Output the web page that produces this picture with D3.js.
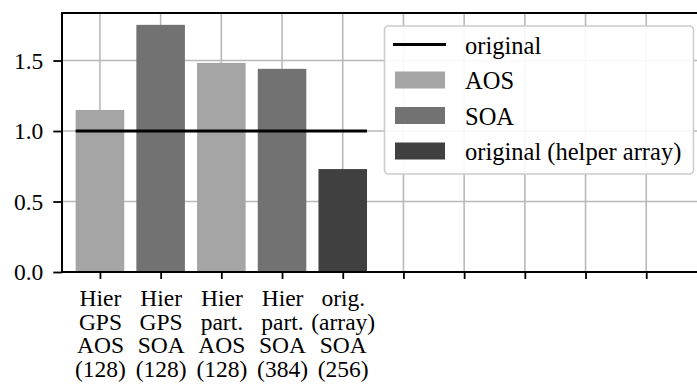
<!DOCTYPE html>
<html>
<head>
<meta charset="utf-8">
<script src="https://cdn.jsdelivr.net/npm/d3@7"></script>
</head>
<body style="margin:0;padding:0;background:#fff">
<svg id="chart" width="697" height="390" style="display:block"></svg>
<script>
// Relative runtime of each layout variant (baseline "original" = 1.0)
const categories = [
  ["Hier", "GPS", "AOS", "(128)"],
  ["Hier", "GPS", "SOA", "(128)"],
  ["Hier", "part.", "AOS", "(128)"],
  ["Hier", "part.", "SOA", "(384)"],
  ["orig.", "(array)", "SOA", "(256)"]
];
const series = ["AOS", "SOA", "AOS", "SOA", "original (helper array)"];
const values = [1.149, 1.753, 1.483, 1.441, 0.730];
const baseline = 1.0;
const xTickCount = 10;
const yTicks = [0, 0.5, 1.0, 1.5];
const legendLabels = ["original", "AOS", "SOA", "original (helper array)"];

const colors = {
  "AOS": "#a5a5a5",
  "SOA": "#727272",
  "original (helper array)": "#404040"
};

const FONT = "'Liberation Serif', 'Times New Roman', Tinos, serif";
const svg = d3.select("#chart");
const mLeft = 62, mTop = 13, mBottom = 272, mRight = 720;

function serifText(sel, size) {
  return sel.style("font-family", FONT).style("font-size", size + "px").attr("fill", "#000");
}

const x = d3.scaleLinear().domain([-0.625, 9.65]).range([mLeft, mLeft + 60.7 * 10.275]);
const y = d3.scaleLinear().domain([0, 1.837]).range([mBottom, mTop]);

svg.append("defs").append("clipPath").attr("id", "plot")
  .append("rect").attr("x", mLeft).attr("y", mTop).attr("width", mRight - mLeft).attr("height", mBottom - mTop);

// grid
const grid = svg.append("g").attr("clip-path", "url(#plot)");
grid.selectAll("line.vx").data(d3.range(xTickCount)).join("line")
  .attr("class", "vx")
  .attr("x1", d => x(d)).attr("x2", d => x(d))
  .attr("y1", mTop).attr("y2", mBottom)
  .attr("stroke", "#b9b9b9").attr("stroke-width", 1.6);
grid.selectAll("line.hy").data(yTicks).join("line")
  .attr("class", "hy")
  .attr("x1", mLeft).attr("x2", mRight)
  .attr("y1", d => y(d)).attr("y2", d => y(d))
  .attr("stroke", "#b9b9b9").attr("stroke-width", 1.6);

// bars
const barW = 0.8;
svg.append("g").selectAll("rect").data(values).join("rect")
  .attr("x", (d, i) => x(i - barW / 2))
  .attr("width", (d, i) => x(i + barW / 2) - x(i - barW / 2))
  .attr("y", d => y(d))
  .attr("height", d => y(0) - y(d))
  .attr("fill", (d, i) => colors[series[i]]);

// baseline line
svg.append("line")
  .attr("x1", x(-0.4)).attr("x2", x(categories.length - 1 + 0.4))
  .attr("y1", y(baseline)).attr("y2", y(baseline))
  .attr("stroke", "#000").attr("stroke-width", 3);

// axes
const xAxis = d3.axisBottom(x).tickValues(d3.range(xTickCount)).tickSize(7).tickFormat("");
const gx = svg.append("g").attr("transform", `translate(0,${mBottom})`).call(xAxis);
gx.attr("font-family", null).attr("font-size", null);
gx.select(".domain").remove();
gx.selectAll(".tick line").attr("stroke", "#000").attr("stroke-width", 1.8);
gx.selectAll(".tick text").remove();
gx.selectAll(".tick").each(function(d) {
  const lines = categories[d];
  if (!lines) return;
  const t = serifText(d3.select(this).append("text").attr("text-anchor", "middle"), 23.5);
  lines.forEach((s, k) => {
    t.append("tspan").attr("x", 0).attr("y", 34 + k * 23.5).text(s);
  });
});

const yAxis = d3.axisLeft(y).tickValues(yTicks).tickSize(8.7).tickPadding(10).tickFormat(d3.format(".1f"));
const gy = svg.append("g").attr("transform", `translate(${mLeft},0)`).call(yAxis);
gy.attr("font-family", null).attr("font-size", null);
gy.select(".domain").remove();
gy.selectAll(".tick line").attr("stroke", "#000").attr("stroke-width", 1.8);
serifText(gy.selectAll(".tick text"), 23.5);

// spines
svg.append("line").attr("x1", mLeft).attr("x2", mLeft).attr("y1", mTop - 1).attr("y2", mBottom + 1)
  .attr("stroke", "#000").attr("stroke-width", 2);
svg.append("line").attr("x1", mLeft - 1).attr("x2", mRight).attr("y1", mBottom).attr("y2", mBottom)
  .attr("stroke", "#000").attr("stroke-width", 2);
svg.append("line").attr("x1", mLeft - 1).attr("x2", mRight).attr("y1", mTop).attr("y2", mTop)
  .attr("stroke", "#000").attr("stroke-width", 2);

// legend
const lg = svg.append("g");
lg.append("rect")
  .attr("x", 384.5).attr("y", 26).attr("width", 309).attr("height", 148)
  .attr("rx", 4).attr("ry", 4)
  .attr("fill", "#fff").attr("fill-opacity", 0.9)
  .attr("stroke", "#cccccc").attr("stroke-width", 1.6);
const rowY = [44.5, 80, 115.5, 151];
legendLabels.forEach((lab, i) => {
  const cy = rowY[i];
  if (i === 0) {
    lg.append("line").attr("x1", 393).attr("x2", 446).attr("y1", cy).attr("y2", cy)
      .attr("stroke", "#000").attr("stroke-width", 3);
  } else {
    lg.append("rect").attr("x", 395).attr("y", cy - 8.5).attr("width", 50).attr("height", 17)
      .attr("fill", colors[lab]);
  }
  serifText(lg.append("text").attr("x", 465).attr("y", cy + 9), 24.5).text(lab);
});
</script>
</body>
</html>
